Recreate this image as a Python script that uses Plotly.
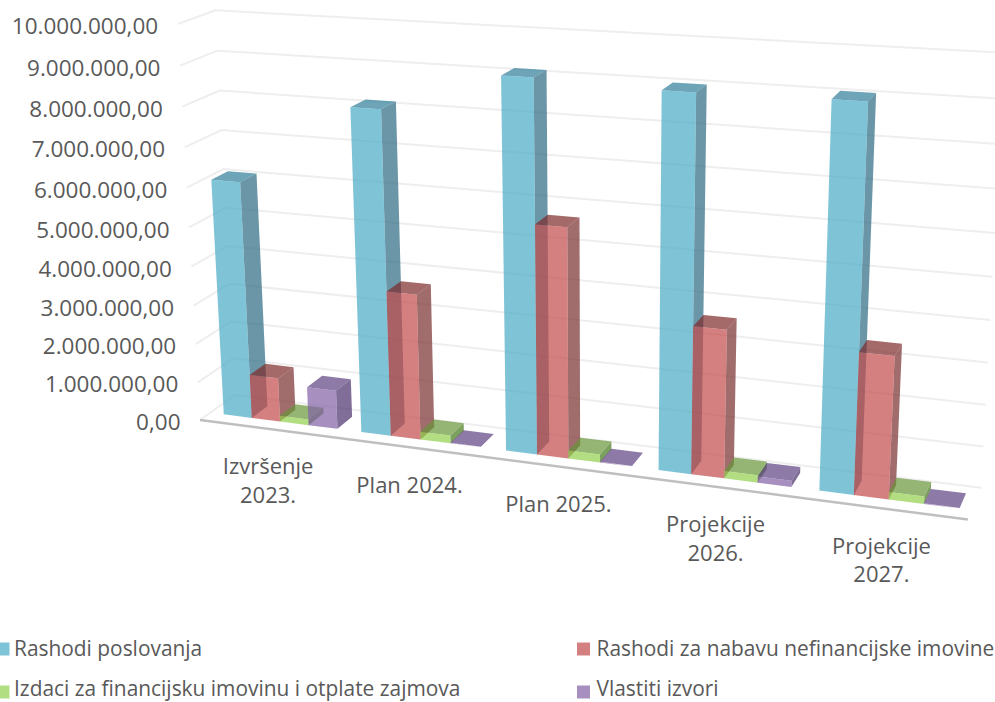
import plotly.graph_objects as go

# ---- data ----
categories = [["Izvršenje", "2023."], ["Plan 2024."], ["Plan 2025."], ["Projekcije", "2026."], ["Projekcije", "2027."]]
series_names = ["Rashodi poslovanja", "Rashodi za nabavu nefinancijske imovine",
                "Izdaci za financijsku imovinu i otplate zajmova", "Vlastiti izvori"]
rashodi_poslovanja = [6090000, 8140000, 9125000, 9015000, 9056000]
rashodi_nabava = [1140000, 3686000, 5680000, 3605000, 3400000]
izdaci = [150000, 200000, 200000, 180000, 180000]
vlastiti = [1000000, 15000, 15000, 150000, 15000]
tick_values = [0, 1000000, 2000000, 3000000, 4000000, 5000000, 6000000, 7000000, 8000000, 9000000, 10000000]
tick_labels = ["0,00", "1.000.000,00", "2.000.000,00", "3.000.000,00", "4.000.000,00", "5.000.000,00",
               "6.000.000,00", "7.000.000,00", "8.000.000,00", "9.000.000,00", "10.000.000,00"]
all_series = [rashodi_poslovanja, rashodi_nabava, izdaci, vlastiti]
value_max = 10000000

# ---- styling ----
TEXT = "#595959"
FONT = "Open Sans"
face_colors = [  # front, side, top, legend
    ("rgba(72,169,196,0.7)", "rgba(44,106,129,0.7)", "rgba(48,126,152,0.7)", "#7FC3D6"),
    ("rgba(195,74,74,0.7)", "rgba(119,45,45,0.7)", "rgba(126,41,41,0.7)", "#D58080"),
    ("rgba(145,208,76,0.7)", "rgba(69,119,26,0.7)", "rgba(102,149,55,0.7)", "#B2DE82"),
    ("rgba(129,97,165,0.7)", "rgba(74,49,108,0.7)", "rgba(92,66,128,0.7)", "#A790C0"),
]

# ---- perspective of the 3-D chart box: vanishing points of its three axes ----
O = (200.0, 420.0)
WIDTH_VP, A = (-5200.0, -280.0), -0.1245
HEIGHT_VP, B = (600.0, 7500.0), -0.05297
DEPTH_VP, C = (1350.0, -400.0), 0.03145


def project(u, v, w):
    """u along categories 0..1, v value share 0..1, w depth 0..1 -> figure position"""
    d = A * u + B * v + C * w + 1
    x = (A * u * WIDTH_VP[0] + B * v * HEIGHT_VP[0] + C * w * DEPTH_VP[0] + O[0]) / d
    y = (A * u * WIDTH_VP[1] + B * v * HEIGHT_VP[1] + C * w * DEPTH_VP[1] + O[1]) / d
    return x, y


def polyline(points):
    p = [project(*q) for q in points]
    return [a for a, _ in p], [b for _, b in p]


fig = go.Figure()


def add_line(points, color, width):
    xs, ys = polyline(points)
    fig.add_trace(go.Scatter(x=xs, y=ys, mode="lines", line=dict(color=color, width=width),
                             hoverinfo="skip", showlegend=False))


def add_face(points, color, name):
    xs, ys = polyline(points + points[:1])
    fig.add_trace(go.Scatter(x=xs, y=ys, mode="lines", fill="toself", fillcolor=color,
                             line=dict(width=0), name=name, hoverinfo="skip", showlegend=False))


# gridlines on the walls
for t in tick_values:
    v = t / value_max
    add_line([(0, v, 0), (0, v, 1), (1, v, 1)], "#EEEEEE", 2)

# category axis line
add_line([(0, 0, 0), (1, 0, 0)], "#BFBFBF", 2.5)

# bars
n_cat = len(categories)
cat_w = 1 / n_cat
bar_start = 0.1 * cat_w
bar_w = 0.2075 * cat_w
w0, w1 = 0.29, 0.75
for i in range(n_cat):
    for s, values in enumerate(all_series):
        u0 = i * cat_w + bar_start + s * bar_w
        u1 = u0 + bar_w
        v = values[i] / value_max
        front, side, top, _ = face_colors[s]
        add_face([(u1, 0, w0), (u1, 0, w1), (u1, v, w1), (u1, v, w0)], side, series_names[s])
        add_face([(u0, v, w0), (u1, v, w0), (u1, v, w1), (u0, v, w1)], top, series_names[s])
        add_face([(u0, 0, w0), (u1, 0, w0), (u1, v, w0), (u0, v, w0)], front, series_names[s])

# value labels
pts = [project(0, t / value_max, 0) for t in tick_values]
fig.add_trace(go.Scatter(x=[p[0] - 19.5 for p in pts], y=[p[1] + 4.5 for p in pts], mode="text",
                         text=tick_labels, textposition="middle left",
                         textfont=dict(family=FONT, size=22.5, color=TEXT), hoverinfo="skip", showlegend=False))

# category labels, line by line
for i, lines in enumerate(categories):
    x, y = project((i + 0.5) * cat_w, 0, 0)
    for k, line in enumerate(lines):
        fig.add_trace(go.Scatter(x=[x], y=[y + 40 + 28.5 * k], mode="text", text=[line],
                                 textposition="middle center",
                                 textfont=dict(family=FONT, size=22, color=TEXT), hoverinfo="skip", showlegend=False))

# legend
legend_x = [3, 583.5, 3, 583.5]
legend_y = [649, 649, 692, 692]
legend_text_x = [14, 596.5, 14, 596.5]
legend_text_y = [651, 651, 691, 691]
for s, name in enumerate(series_names):
    fig.add_trace(go.Scatter(x=[legend_x[s]], y=[legend_y[s]], mode="markers",
                             marker=dict(symbol="square", size=13, color=face_colors[s][3]),
                             hoverinfo="skip", showlegend=False))
    fig.add_trace(go.Scatter(x=[legend_text_x[s]], y=[legend_text_y[s]], mode="text", text=[name],
                             textposition="middle right", cliponaxis=False,
                             textfont=dict(family=FONT, size=20.9, color=TEXT), hoverinfo="skip", showlegend=False))

fig.update_layout(
    width=995, height=702, margin=dict(l=0, r=0, t=0, b=0),
    paper_bgcolor="white", plot_bgcolor="white", showlegend=False,
    xaxis=dict(range=[0, 995], visible=False, fixedrange=True),
    yaxis=dict(range=[702, 0], visible=False, fixedrange=True),
)
fig.write_html("out.html", config={"displayModeBar": False},
               post_script="document.body.style.margin='0';document.body.style.overflow='hidden';")
